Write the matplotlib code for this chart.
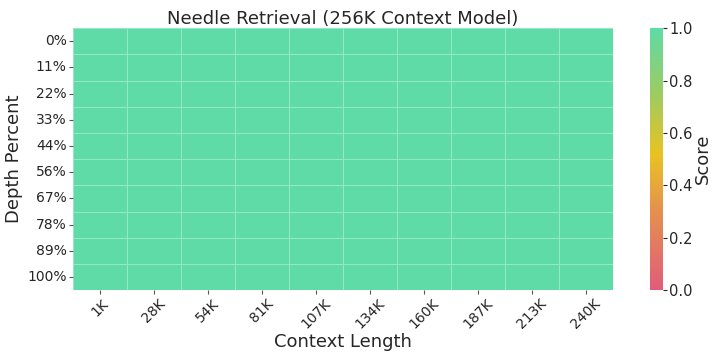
import numpy as np
import matplotlib
matplotlib.use("Agg")
import matplotlib.pyplot as plt
import seaborn as sns
from matplotlib.colors import LinearSegmentedColormap

# Needle retrieval scores: every depth / context length combination found the needle
context_labels = ["1K", "28K", "54K", "81K", "107K", "134K", "160K", "187K", "213K", "240K"]
depth_labels = ["0%", "11%", "22%", "33%", "44%", "56%", "67%", "78%", "89%", "100%"]
scores = [
    [1.0, 1.0, 1.0, 1.0, 1.0, 1.0, 1.0, 1.0, 1.0, 1.0],
    [1.0, 1.0, 1.0, 1.0, 1.0, 1.0, 1.0, 1.0, 1.0, 1.0],
    [1.0, 1.0, 1.0, 1.0, 1.0, 1.0, 1.0, 1.0, 1.0, 1.0],
    [1.0, 1.0, 1.0, 1.0, 1.0, 1.0, 1.0, 1.0, 1.0, 1.0],
    [1.0, 1.0, 1.0, 1.0, 1.0, 1.0, 1.0, 1.0, 1.0, 1.0],
    [1.0, 1.0, 1.0, 1.0, 1.0, 1.0, 1.0, 1.0, 1.0, 1.0],
    [1.0, 1.0, 1.0, 1.0, 1.0, 1.0, 1.0, 1.0, 1.0, 1.0],
    [1.0, 1.0, 1.0, 1.0, 1.0, 1.0, 1.0, 1.0, 1.0, 1.0],
    [1.0, 1.0, 1.0, 1.0, 1.0, 1.0, 1.0, 1.0, 1.0, 1.0],
    [1.0, 1.0, 1.0, 1.0, 1.0, 1.0, 1.0, 1.0, 1.0, 1.0],
]

cmap = LinearSegmentedColormap.from_list(
    "needle", [(0.0, "#e05c7c"), (0.3, "#e5904e"), (0.52, "#e8c322"), (0.75, "#9ecb62"), (1.0, "#5edba6")]
)

plt.rcParams["text.color"] = "#262626"
plt.rcParams["axes.labelcolor"] = "#262626"
plt.rcParams["xtick.color"] = "#262626"
plt.rcParams["ytick.color"] = "#262626"

fig = plt.figure(figsize=(7.28, 3.56), dpi=100)
ax = fig.add_axes([0.100, 0.185, 0.742, 0.736])
cax = fig.add_axes([0.893, 0.185, 0.018, 0.736])

sns.heatmap(np.array(scores), ax=ax, cbar_ax=cax, cmap=cmap, vmin=0, vmax=1,
            linewidths=0.6, linecolor="white",
            xticklabels=context_labels, yticklabels=depth_labels)
ax.collections[0].set_edgecolor((1, 1, 1, 0.35))

ax.set_title("Needle Retrieval (256K Context Model)", fontsize=13, pad=3)
ax.set_xlabel("Context Length", fontsize=13, labelpad=1)
ax.set_ylabel("Depth Percent", fontsize=13, labelpad=3)
ax.tick_params(axis="both", labelsize=10, length=3, pad=1.5, color="#555555")
plt.setp(ax.get_xticklabels(), rotation=45, ha="center", va="top", rotation_mode="default")
plt.setp(ax.get_yticklabels(), rotation=0)

cax.tick_params(labelsize=10.5, length=3, pad=1.5)
cax.set_yticks([0.0, 0.2, 0.4, 0.6, 0.8, 1.0])
cax.set_ylabel("Score", fontsize=13, labelpad=1)
cax.collections[0].set_edgecolor("face")

fig.savefig("out.png", dpi=100)
